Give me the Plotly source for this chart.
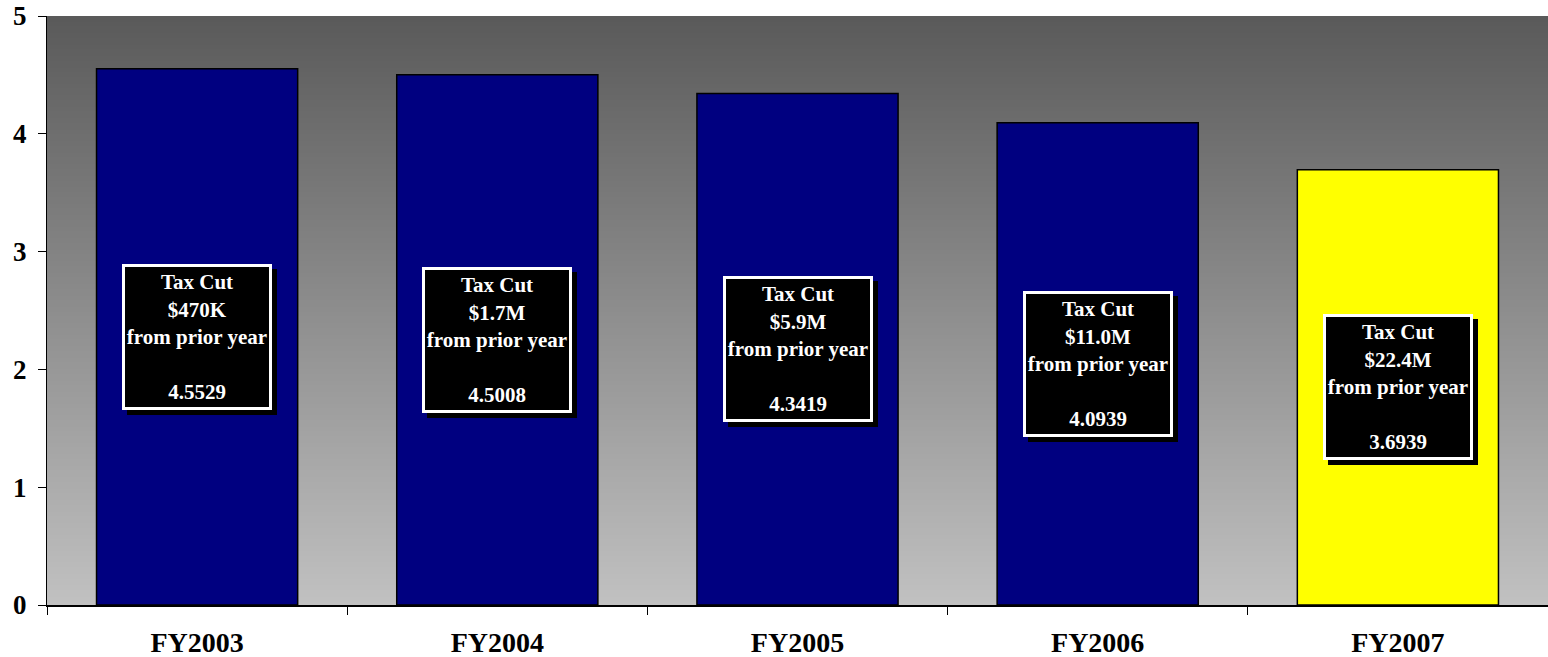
import base64
import struct
import zlib

import plotly.graph_objects as go

# Fiscal years and tax rates
years = ["FY2003", "FY2004", "FY2005", "FY2006", "FY2007"]
rates = [4.5529, 4.5008, 4.3419, 4.0939, 3.6939]
cuts = ["$470K", "$1.7M", "$5.9M", "$11.0M", "$22.4M"]
bar_colors = ["#000080", "#000080", "#000080", "#000080", "#FFFF00"]
y_ticks = [0, 1, 2, 3, 4, 5]

SERIF = "Liberation Serif, Times New Roman, serif"


def gradient_png(top, bottom, h=256):
    """Build a 1-pixel-wide vertical gradient PNG as a data URI."""
    raw = b""
    for r in range(h):
        t = r / (h - 1)
        px = bytes(round(top[k] + (bottom[k] - top[k]) * t) for k in range(3))
        raw += b"\x00" + px

    def chunk(tag, data):
        c = struct.pack(">I", len(data)) + tag + data
        return c + struct.pack(">I", zlib.crc32(tag + data) & 0xFFFFFFFF)

    png = b"\x89PNG\r\n\x1a\n"
    png += chunk(b"IHDR", struct.pack(">IIBBBBB", 1, h, 8, 2, 0, 0, 0))
    png += chunk(b"IDAT", zlib.compress(raw, 9))
    png += chunk(b"IEND", b"")
    return "data:image/png;base64," + base64.b64encode(png).decode()


fig = go.Figure()
fig.add_trace(go.Bar(
    x=years,
    y=rates,
    marker=dict(color=bar_colors, line=dict(color="black", width=1.5)),
    hoverinfo="x+y",
))

# Value labels: black boxes with white border and drop shadow
annotations = []
for yr, val, cut in zip(years, rates, cuts):
    text = "<b>Tax Cut<br>%s<br>from prior year<br> <br>%.4f</b>" % (cut, val)
    annotations.append(dict(
        x=yr, y=val / 2, xref="x", yref="y", text=" ", showarrow=False,
        width=144, height=140, bgcolor="black", borderwidth=3, borderpad=0,
        bordercolor="black", xshift=5, yshift=-5,
    ))
    annotations.append(dict(
        x=yr, y=val / 2, xref="x", yref="y", text=text, showarrow=False,
        width=144, height=140, bgcolor="black", bordercolor="white",
        borderwidth=3, borderpad=0, align="center", valign="middle",
        font=dict(family=SERIF, size=21, color="white"),
    ))

fig.update_layout(
    width=1548, height=657,
    margin=dict(l=47, r=0, t=16, b=52),
    paper_bgcolor="white",
    plot_bgcolor="rgba(0,0,0,0)",
    bargap=0.33,
    showlegend=False,
    annotations=annotations,
    images=[dict(
        source=gradient_png((90, 90, 90), (193, 193, 193)),
        xref="paper", yref="paper", x=0, y=1, sizex=1, sizey=1,
        xanchor="left", yanchor="top", sizing="stretch", layer="below",
    )],
    xaxis=dict(
        type="category", tickson="boundaries", ticks="outside", ticklen=8,
        tickcolor="black", showline=True, linecolor="black", linewidth=1.5,
        showgrid=False, ticklabelstandoff=12,
        tickfont=dict(family=SERIF, size=28, color="black", weight="bold"),
    ),
    yaxis=dict(
        range=[0, 5], tickvals=y_ticks, ticks="outside", ticklen=8,
        tickcolor="black", showline=True, linecolor="black", linewidth=1,
        showgrid=False, zeroline=False, ticklabelstandoff=6,
        tickfont=dict(family=SERIF, size=27, color="black", weight="bold"),
    ),
)

fig.write_html("out.html")
